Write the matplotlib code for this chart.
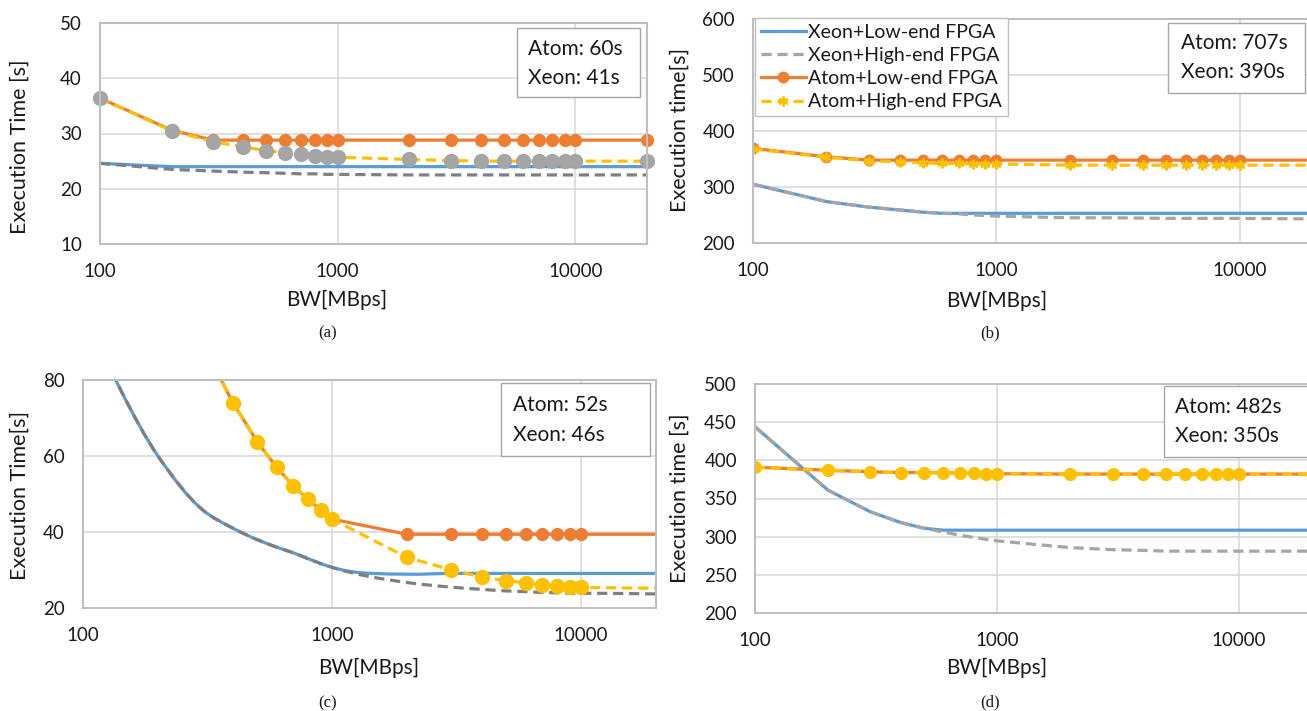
import matplotlib
matplotlib.use('Agg')
import numpy as np
import matplotlib.pyplot as plt
from matplotlib.patches import Rectangle, PathPatch
from matplotlib.path import Path
from matplotlib.ticker import NullLocator, FixedLocator

W, H = 1307, 711
FONT = ['Lato', 'DejaVu Sans']
plt.rcParams['font.family'] = FONT

# ---------------- data ----------------
bw = [100, 200, 300, 400, 500, 600, 700, 800, 900, 1000,
      2000, 3000, 4000, 5000, 6000, 7000, 8000, 9000, 10000, 20000]
bw_ticks = [100, 1000, 10000]
bw_tick_labels = ['100', '1000', '10000']

series_names = ['Xeon+Low-end FPGA', 'Xeon+High-end FPGA',
                'Atom+Low-end FPGA', 'Atom+High-end FPGA']

# (a)
a_xeon_low = [24.6, 24.0, 24.0, 24.0, 24.0, 24.0, 24.0, 24.0, 24.0, 24.0,
              24.0, 24.0, 24.0, 24.0, 24.0, 24.0, 24.0, 24.0, 24.0, 24.0]
a_xeon_high = [24.6, 23.5, 23.2, 23.0, 22.9, 22.8, 22.7, 22.7, 22.6, 22.6,
               22.5, 22.5, 22.5, 22.5, 22.5, 22.5, 22.5, 22.5, 22.5, 22.5]
a_atom_low = [36.4, 30.6, 28.8, 28.8, 28.8, 28.8, 28.8, 28.8, 28.8, 28.8,
              28.8, 28.8, 28.8, 28.8, 28.8, 28.8, 28.8, 28.8, 28.8, 28.8]
a_atom_high = [36.4, 30.5, 28.5, 27.6, 26.9, 26.5, 26.2, 26.0, 25.8, 25.7,
               25.3, 25.1, 25.0, 25.0, 25.0, 25.0, 25.0, 25.0, 25.0, 25.0]
a_yticks = [10, 20, 30, 40, 50]
a_note = ['Atom: 60s', 'Xeon: 41s']

# (b)
b_xeon_low = [305, 274, 264, 259, 255, 253, 253, 253, 253, 253,
              253, 253, 253, 253, 253, 253, 253, 253, 253, 253]
b_xeon_high = [305, 274, 264, 259, 255, 253, 252, 250, 249, 248,
               245, 245, 244.5, 244, 244, 244, 244, 244, 244, 243]
b_atom_low = [369, 354, 348, 348, 348, 348, 348, 348, 348, 348,
              348, 348, 348, 348, 348, 348, 348, 348, 348, 348]
b_atom_high = [368, 353, 347, 345, 343, 342, 342, 341, 341, 341,
               339, 339, 339, 339, 339, 339, 339, 339, 339, 339]
b_yticks = [200, 300, 400, 500, 600]
b_note = ['Atom: 707s', 'Xeon: 390s']

# (c)
c_xeon_low = [97, 60, 46, 41, 38, 36, 34.5, 33, 31.7, 30.7,
              28.9, 29.1, 29.1, 29.1, 29.1, 29.1, 29.1, 29.1, 29.1, 29.1]
c_xeon_high = [97, 60, 46, 41, 38, 36, 34.5, 33, 31.7, 30.7,
               26.7, 25.5, 24.9, 24.5, 24.3, 24.1, 24.0, 23.9, 23.9, 23.7]
c_atom_low = [230, 125, 90, 74, 63.8, 57, 52.1, 48.6, 45.8, 43.4,
              39.4, 39.4, 39.4, 39.4, 39.4, 39.4, 39.4, 39.4, 39.4, 39.4]
c_atom_high = [230, 125, 90, 74, 63.8, 57, 52.1, 48.6, 45.8, 43.4,
               33.3, 30.1, 28.1, 27.2, 26.6, 26.0, 25.8, 25.6, 25.4, 25.2]
c_yticks = [20, 40, 60, 80]
c_note = ['Atom: 52s', 'Xeon: 46s']

# (d)
d_xeon_low = [444, 361, 332.5, 318.5, 311, 308.5, 308.5, 308.5, 308.5, 308.5,
              308.5, 308.5, 308.5, 308.5, 308.5, 308.5, 308.5, 308.5, 308.5, 308.5]
d_xeon_high = [444, 361, 332.5, 318.5, 311, 306, 302, 299, 296.5, 294.5,
               285.7, 283, 282, 281, 281, 281, 281, 281, 281, 281]
d_atom_low = [391, 387, 385, 384, 384, 383.5, 383, 383, 382.5, 382.5,
              382, 382, 382, 382, 382, 382, 382, 382, 382, 382]
d_atom_high = [391, 387, 385, 384, 384, 383.5, 383, 383, 382.5, 382.5,
               382, 382, 382, 382, 382, 382, 382, 382, 382, 382]
d_yticks = [200, 250, 300, 350, 400, 450, 500]
d_note = ['Atom: 482s', 'Xeon: 350s']

# ---------------- styling ----------------
BLUE = '#5B9BD5'
ORANGE = '#ED7D31'
GRAY = '#A5A5A5'
DGRAY = '#7F7F7F'
YELLOW = '#FFC000'
GRID = '#D9D9D9'
SPINE = '#BFBFBF'
TXT = '#1A1A1A'
LW = 2.3
DASH = (3.2, 1.8)
TICK_FS = 13.5
LABEL_FS = 15
NOTE_FS = 15

fig = plt.figure(figsize=(W / 100, H / 100), dpi=100)
fig.patch.set_facecolor('white')


def rect(l, r, t, b):
    return [l / W, 1 - b / H, (r - l) / W, (b - t) / H]


def ftext(x, y, s, **kw):
    return fig.text(x / W, 1 - y / H, s, **kw)


def setup(ax, yticks):
    ax.set_xscale('log')
    ax.set_xlim(100, 20000)
    ax.set_ylim(yticks[0], yticks[-1])
    ax.xaxis.set_major_locator(FixedLocator(bw_ticks))
    ax.set_xticklabels(bw_tick_labels)
    ax.xaxis.set_minor_locator(NullLocator())
    ax.set_yticks(yticks)
    ax.grid(True, color=GRID, lw=1.2)
    ax.set_axisbelow(True)
    for s in ax.spines.values():
        s.set_color(SPINE)
        s.set_linewidth(1.5)
    ax.tick_params(axis='both', length=0, labelsize=TICK_FS, colors=TXT)
    ax.tick_params(axis='y', pad=13)
    ax.tick_params(axis='x', pad=14)


def smooth(ax, xs, ys, **kw):
    """Smoothed line: cubic Hermite/Bezier segments through the data points (log-x space)."""
    lx = np.log10(np.asarray(xs, float))
    yy = np.asarray(ys, float)
    n = len(lx)
    h = np.diff(lx)
    d = np.diff(yy) / h
    m = np.empty(n)
    m[0], m[-1] = d[0], d[-1]
    for i in range(1, n - 1):
        m[i] = (d[i - 1] * h[i] + d[i] * h[i - 1]) / (h[i - 1] + h[i])
    verts = [(xs[0], yy[0])]
    codes = [Path.MOVETO]
    for i in range(n - 1):
        c1 = (10 ** (lx[i] + h[i] / 3), yy[i] + m[i] * h[i] / 3)
        c2 = (10 ** (lx[i + 1] - h[i] / 3), yy[i + 1] - m[i + 1] * h[i] / 3)
        verts += [c1, c2, (xs[i + 1], yy[i + 1])]
        codes += [Path.CURVE4] * 3
    patch = PathPatch(Path(verts, codes), facecolor='none', transform=ax.transData, **kw)
    ax.add_patch(patch)
    return patch


def note(x0, x1, y0, y1, tx, ty1, ty2, lines):
    fig.patches.append(Rectangle((x0 / W, 1 - y1 / H), (x1 - x0) / W, (y1 - y0) / H,
                                 transform=fig.transFigure, facecolor='white',
                                 edgecolor='#A6A6A6', lw=1.0, zorder=5))
    ftext(tx, ty1, lines[0], fontsize=NOTE_FS, va='center', ha='left', color=TXT, zorder=6)
    ftext(tx, ty2, lines[1], fontsize=NOTE_FS, va='center', ha='left', color=TXT, zorder=6)


def caption(x, y, s):
    ftext(x, y, s, fontsize=12, ha='center', va='center',
          family=['Liberation Serif', 'DejaVu Serif'], color=TXT)


# ---------- (a) ----------
ax = fig.add_axes(rect(100, 647, 23, 244))
setup(ax, a_yticks)
ax.plot(bw, a_xeon_low, color=BLUE, lw=LW, solid_capstyle='butt')
ax.plot(bw, a_xeon_high, color=DGRAY, lw=LW, dashes=DASH)
ax.plot(bw, a_atom_low, color=ORANGE, lw=LW, marker='o', ms=8.5, clip_on=False)
ax.plot(bw, a_atom_high, color=YELLOW, lw=LW, dashes=DASH, marker='o', ms=10,
        mfc=GRAY, mec=GRAY, clip_on=False)
note(517, 640, 28, 97, 528, 49, 78, a_note)
ftext(20, 147, 'Execution Time [s]', rotation=90, fontsize=15.5, ha='center', va='center', color=TXT)
ftext(337, 300, 'BW[MBps]', fontsize=LABEL_FS, ha='center', va='center', color=TXT)
caption(328, 333, '(a)')

# ---------- (b) ----------
ax = fig.add_axes(rect(753, 1313, 19, 243))
setup(ax, b_yticks)
l1, = ax.plot(bw, b_xeon_low, color=BLUE, lw=LW)
l2, = ax.plot(bw, b_xeon_high, color=GRAY, lw=LW, dashes=DASH)
l3, = ax.plot(bw, b_atom_low, color=ORANGE, lw=LW, marker='o', ms=7.5)
l4, = ax.plot(bw, b_atom_high, color=YELLOW, lw=LW, dashes=DASH, marker=(6, 2, 0),
              ms=7, mew=1.6, mec=YELLOW)
leg = ax.legend([l1, l2, l3, l4], series_names, loc='upper left',
                bbox_to_anchor=(755 / W, 1 - 18 / H), bbox_transform=fig.transFigure,
                borderaxespad=0, fontsize=14, handlelength=2.3, handletextpad=0.15,
                labelspacing=0.32, borderpad=0.3, fancybox=False, framealpha=1,
                edgecolor=SPINE)
leg.get_frame().set_linewidth(1.0)
for t in leg.get_texts():
    t.set_color(TXT)
note(1168, 1305, 23, 93, 1181, 43, 72, b_note)
ftext(680, 130, 'Execution time[s]', rotation=90, fontsize=15.5, ha='center', va='center', color=TXT)
ftext(997, 301, 'BW[MBps]', fontsize=LABEL_FS, ha='center', va='center', color=TXT)
caption(990, 333, '(b)')

# ---------- (c) ----------
ax = fig.add_axes(rect(83, 656, 380, 608))
setup(ax, c_yticks)
smooth(ax, bw, c_xeon_low, edgecolor=BLUE, lw=LW)
smooth(ax, bw, c_xeon_high, edgecolor=DGRAY, lw=LW, linestyle=(0, DASH))
ax.plot(bw, c_atom_low, color=ORANGE, lw=LW, marker='o', ms=8.5, markevery=list(range(19)))
ax.plot(bw, c_atom_high, color=YELLOW, lw=LW, dashes=DASH, marker='o', ms=10,
        markevery=list(range(19)))
note(501, 650, 383, 456, 513, 405, 435, c_note)
ftext(20, 495, 'Execution Time[s]', rotation=90, fontsize=15.5, ha='center', va='center', color=TXT)
ftext(369, 668, 'BW[MBps]', fontsize=LABEL_FS, ha='center', va='center', color=TXT)
caption(328, 703, '(c)')

# ---------- (d) ----------
ax = fig.add_axes(rect(755, 1312, 384, 613))
setup(ax, d_yticks)
ax.plot(bw, d_xeon_low, color=BLUE, lw=LW)
ax.plot(bw, d_xeon_high, color=GRAY, lw=LW, dashes=DASH)
ax.plot(bw, d_atom_low, color=ORANGE, lw=LW)
ax.plot(bw, d_atom_high, color=YELLOW, lw=LW, dashes=DASH, marker='o', ms=8.5)
note(1164, 1312, 386, 457, 1175, 407, 436, d_note)
ftext(680, 498, 'Execution time [s]', rotation=90, fontsize=15.5, ha='center', va='center', color=TXT)
ftext(997, 668, 'BW[MBps]', fontsize=LABEL_FS, ha='center', va='center', color=TXT)
caption(990, 702, '(d)')

fig.savefig('out.png', dpi=100, facecolor='white')
